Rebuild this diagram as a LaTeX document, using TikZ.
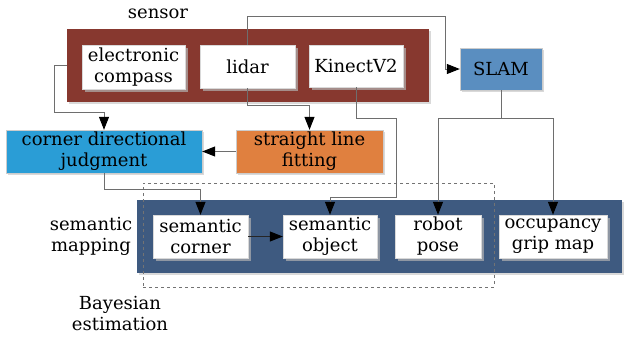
\documentclass[tikz,border=0pt]{standalone}
\usepackage{fontspec}
\setmainfont{DejaVu Serif}
\usetikzlibrary{arrows.meta,shadows,calc}

\definecolor{sensorred}{HTML}{87382F}
\definecolor{slamblue}{HTML}{5A8EC0}
\definecolor{cornerblue}{HTML}{2A9DD6}
\definecolor{fitorange}{HTML}{E0803F}
\definecolor{mapblue}{HTML}{3E5A80}
\definecolor{linegray}{HTML}{6E6E6E}

\tikzset{
  txt/.style={font=\fontsize{18}{21}\selectfont, align=center, inner sep=0pt},
  panel/.style={draw=none, inner sep=0pt,
    drop shadow={shadow xshift=2pt, shadow yshift=-2pt, fill=black!25, opacity=0.6}},
  whitebox/.style={txt, fill=white, draw=black!15, line width=0.4pt,
    drop shadow={shadow xshift=3pt, shadow yshift=-3pt, fill=black!30, opacity=0.7}},
  colorbox/.style={txt, draw=black!20, line width=0.4pt,
    drop shadow={shadow xshift=2pt, shadow yshift=-2pt, fill=black!25, opacity=0.6}},
  conn/.style={draw=linegray, line width=1pt},
  tipblk/.tip={Triangle[length=13pt,width=10pt,color=black]},
  arr/.style={conn, -tipblk},
  darkarr/.style={draw=black!85, line width=1pt, -tipblk},
}

\begin{document}
\begin{tikzpicture}[x=1pt,y=-1pt]
  \useasboundingbox (0,0) rectangle (624,338);

  % large panels
  \node[panel, fill=sensorred, minimum width=362pt, minimum height=73pt] (sensor) at (248,65.5) {};
  \node[panel, fill=mapblue, minimum width=485pt, minimum height=73pt] (mapping) at (379.5,236.5) {};

  % sensor inputs
  \node[whitebox, minimum width=103pt, minimum height=44pt] (compass) at (133.5,67) {electronic\\compass};
  \node[whitebox, minimum width=95pt, minimum height=43pt] (lidar) at (247.5,66.5) {lidar};
  \node[whitebox, minimum width=94pt, minimum height=42pt] (kinect) at (356,66) {KinectV2};

  % processing blocks
  \node[colorbox, fill=slamblue, minimum width=82pt, minimum height=42pt] (slam) at (501,69) {SLAM};
  \node[colorbox, fill=cornerblue, minimum width=196pt, minimum height=43pt] (corner) at (104,151.5) {corner directional\\judgment};
  \node[colorbox, fill=fitorange, minimum width=147pt, minimum height=43pt] (fitting) at (309.5,151.5) {straight line\\fitting};

  % semantic map contents
  \node[whitebox, minimum width=95pt, minimum height=43pt] (semcorner) at (200.5,236.5) {semantic\\corner};
  \node[whitebox, minimum width=94pt, minimum height=43pt] (semobject) at (330,236.5) {semantic\\object};
  \node[whitebox, minimum width=86pt, minimum height=43pt] (robot) at (438,236.5) {robot\\pose};
  \node[whitebox, minimum width=108pt, minimum height=43pt] (occ) at (553,236.5) {occupancy\\grip map};

  % Bayesian estimation region
  \node[draw=black!55, dashed, line width=0.5pt, inner sep=0pt,
        minimum width=351pt, minimum height=104pt] (bayes) at (318.5,235) {};

  % captions
  \node[txt] (lsensor) at (158,14) {sensor};
  \node[txt] (lmapping) at (91,236) {semantic\\mapping};
  \node[txt] (lbayes) at (120,313) {Bayesian\\estimation};

  % connectors
  \draw[arr] (sensor.west) -- ++(-12,0) |- ($(corner.north)+(0,-17)$) -- (corner.north);
  \draw[arr] (lidar.south) -- ++(0,17) -| (fitting.north);
  \draw[arr] (lidar.north) -- ++(0,-28) -| ($(slam.west)+(-14,0)$) -- (slam.west);
  \draw[arr] (fitting.west) -- (corner.east);
  \draw[arr] (corner.south) -- ++(0,16) -| (semcorner.north);
  \draw[arr] (kinect.south) -- ++(0,31) -- ++(40,0) -- ++(0,79) -| (semobject.north);
  \draw[conn] (slam.south) -- ++(0,28) coordinate (sj);
  \draw[arr] (sj) -| (robot.north);
  \draw[arr] (sj) -| (occ.north);
  \draw[darkarr] (semcorner.east) -- (semobject.west);
\end{tikzpicture}
\end{document}
